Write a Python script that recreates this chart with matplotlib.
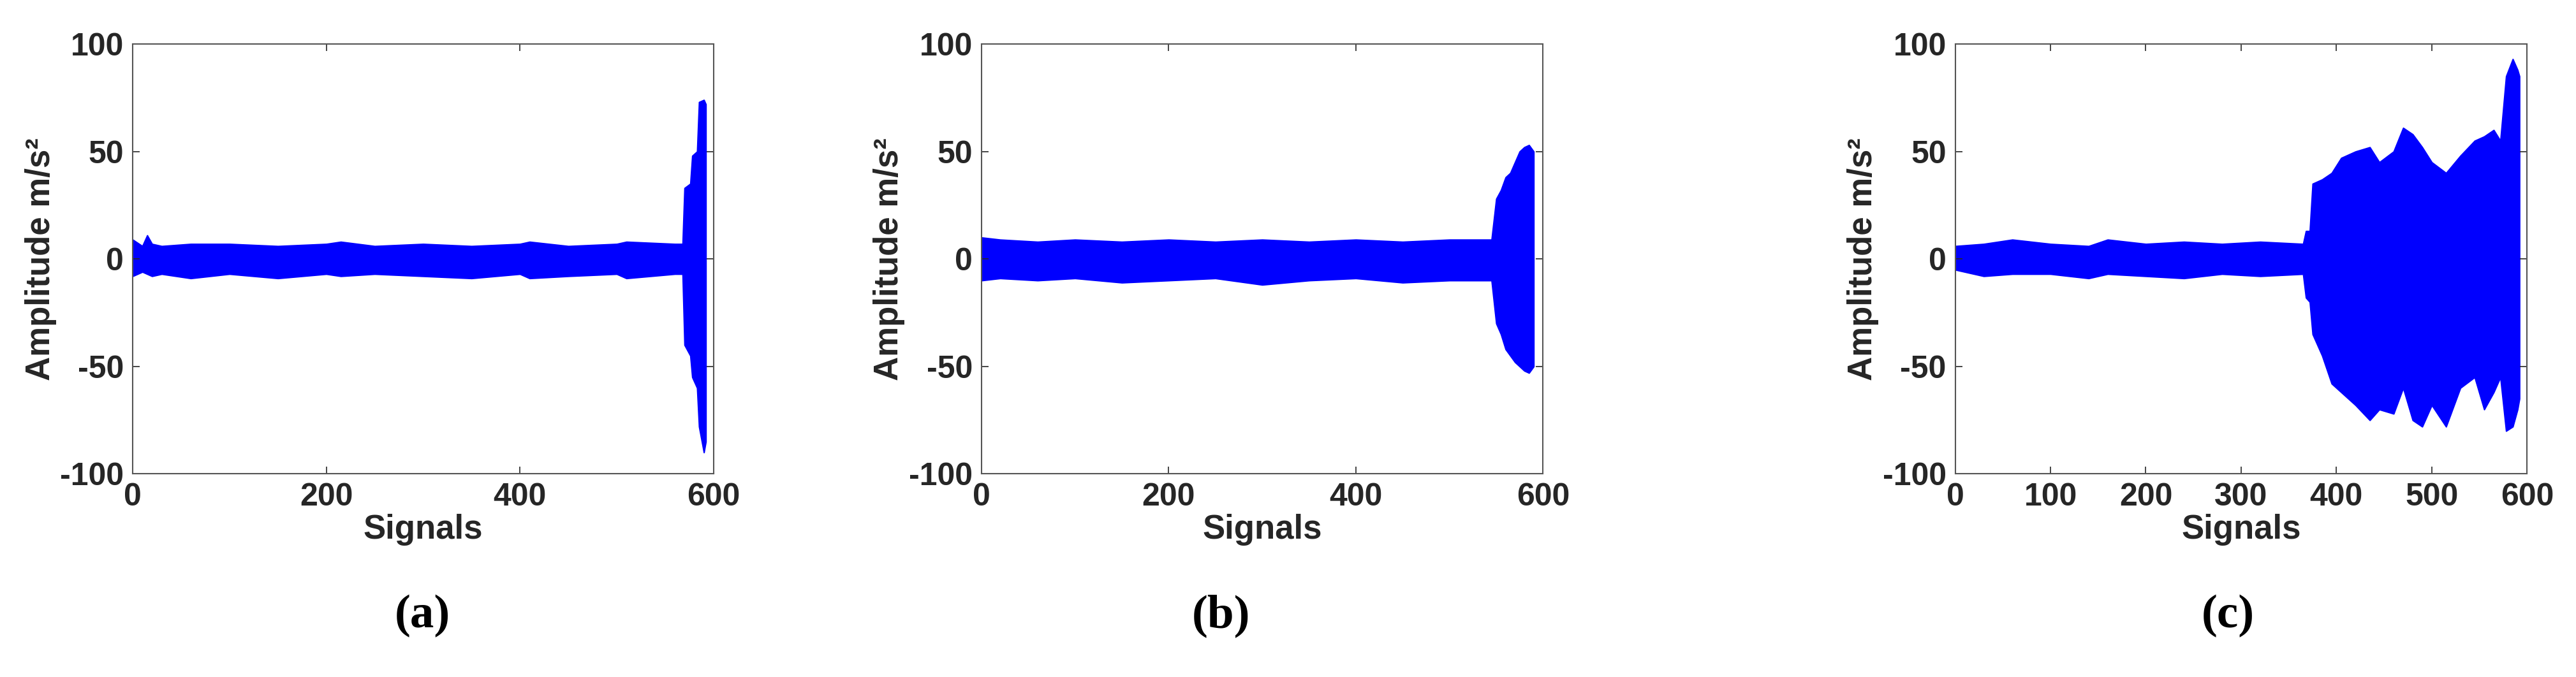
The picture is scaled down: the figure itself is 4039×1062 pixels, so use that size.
import matplotlib
matplotlib.use("Agg")
import matplotlib.pyplot as plt
plt.rcParams["axes.unicode_minus"] = False

# Envelope of each signal
a_x = [0, 10, 15, 20, 30, 60, 100, 150, 200, 215, 250, 300, 350, 400, 410, 450, 500, 510, 560, 568, 570, 576, 578, 583, 585, 590, 592]
a_up = [9, 6, 11, 7, 6, 7, 7, 6, 7, 8, 6, 7, 6, 7, 8, 6, 7, 8, 7, 7, 33, 35, 48, 50, 73, 74, 72]
a_lo = [-8, -6, -7, -8, -7, -9, -7, -9, -7, -8, -7, -8, -9, -7, -9, -8, -7, -9, -7, -7, -40, -45, -55, -60, -78, -90, -85]

b_x = [0, 20, 60, 100, 150, 200, 250, 300, 350, 400, 450, 500, 545, 550, 555, 560, 565, 570, 575, 580, 585, 590]
b_up = [10, 9, 8, 9, 8, 9, 8, 9, 8, 9, 8, 9, 9, 28, 32, 38, 40, 45, 50, 52, 53, 50]
b_lo = [-10, -9, -10, -9, -11, -10, -9, -12, -10, -9, -11, -10, -10, -30, -35, -42, -45, -48, -50, -52, -53, -50]

c_x = [0, 30, 60, 100, 140, 160, 200, 240, 280, 320, 365, 368, 372, 375, 385, 395, 405, 420, 435, 445, 460, 470, 480, 490, 500, 515, 530, 545, 555, 565, 572, 578, 585, 590, 592]
c_up = [6, 7, 9, 7, 6, 9, 7, 8, 7, 8, 7, 13, 13, 35, 37, 40, 47, 50, 52, 45, 50, 61, 58, 52, 45, 40, 48, 55, 57, 60, 55, 85, 93, 88, 85]
c_lo = [-5, -8, -7, -7, -9, -7, -8, -9, -7, -8, -7, -18, -20, -35, -45, -58, -62, -68, -75, -70, -72, -60, -75, -78, -68, -78, -60, -55, -70, -62, -55, -80, -78, -70, -65]

panels = [(a_x, a_up, a_lo, "a", [0, 200, 400, 600], 0.0515, 0.2255, 0.164),
          (b_x, b_up, b_lo, "b", [0, 200, 400, 600], 0.381, 0.218, 0.474),
          (c_x, c_up, c_lo, "c", [0, 100, 200, 300, 400, 500, 600], 0.759, 0.222, 0.865)]

fig = plt.figure(figsize=(40.39, 10.62), dpi=100)
tc = "#262626"
for x, up, lo, lab, xt, left, w, cx in panels:
    ax = fig.add_axes([left, 0.30, w, 0.635])
    ax.fill_between(x, lo, up, color="#0000ff", linewidth=1.5, edgecolor="#0000ff")
    ax.set_xlim(0, 600)
    ax.set_ylim(-100, 100)
    ax.set_xticks(xt)
    ax.set_yticks([-100, -50, 0, 50, 100])
    ax.tick_params(direction="in", top=True, right=True, length=8, width=1.2,
                   labelsize=36, colors=tc, labelcolor=tc, pad=10)
    for t in ax.get_xticklabels() + ax.get_yticklabels():
        t.set_fontweight("bold")
        t.set_family("Liberation Sans")
    for s in ax.spines.values():
        s.set_color("#555555")
        s.set_linewidth(1.5)
    ax.set_xlabel("Signals", fontsize=38, fontweight="bold", family="Liberation Sans", color=tc, labelpad=2)
    ax.set_ylabel("Amplitude m/s²", fontsize=38, fontweight="bold", family="Liberation Sans", color=tc, labelpad=4)
    fig.text(cx, 0.09, "(" + lab + ")", fontsize=54, fontweight="bold", family="Liberation Serif",
             ha="center", va="center", color="black")

fig.savefig("out.png", dpi=100, facecolor="white")
